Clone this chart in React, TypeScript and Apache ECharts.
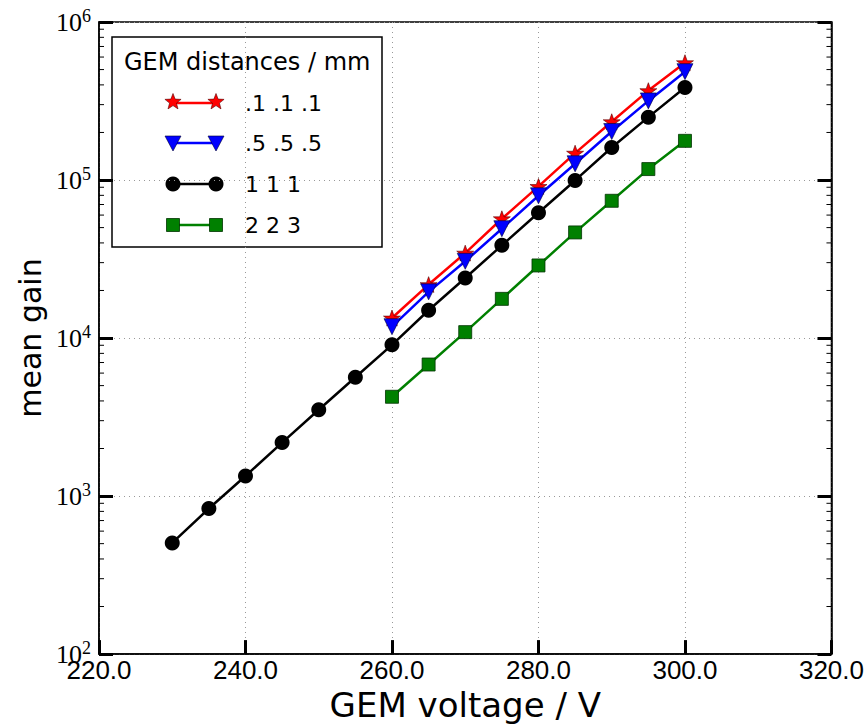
import React, { useEffect, useRef } from "react";
import * as echarts from "echarts";

// ---------- data ----------
const voltsBlack = [230, 235, 240, 245, 250, 255, 260, 265, 270, 275, 280, 285, 290, 295, 300];
const gain111 = [505, 834, 1340, 2180, 3520, 5650, 9060, 15000, 24000, 38600, 62100, 99400, 160600, 250000, 384500];
const volts = [260, 265, 270, 275, 280, 285, 290, 295, 300];
const gain01 = [13400, 21800, 34500, 56900, 91100, 148000, 234000, 368000, 553000];
const gain05 = [11800, 19600, 30600, 49200, 79500, 126700, 202700, 316700, 485000];
const gain223 = [4250, 6800, 10900, 17700, 28800, 46600, 73900, 117300, 177000];
const seriesNames = [".1 .1 .1", ".5 .5 .5", "1 1 1", "2 2 3"];
const legendTitle = "GEM distances / mm";
const xName = "GEM voltage / V";
const yName = "mean gain";
const xMin = 220, xMax = 320, xStep = 20;
const yMin = 100, yMax = 1000000;
const minorTickValues: number[] = [];
for (let d = 2; d <= 5; d++) for (let k = 2; k <= 9; k++) minorTickValues.push(k * Math.pow(10, d));

const STAR = "path://M12,0 L14.9,8.1 L23.4,8.1 L16.5,13.1 L19.1,21.2 L12,16.2 L4.9,21.2 L7.5,13.1 L0.6,8.1 L9.1,8.1 Z";

function starPoints(cx: number, cy: number, R: number, r: number) {
  const pts: number[][] = [];
  for (let i = 0; i < 10; i++) {
    const rad = i % 2 === 0 ? R : r;
    const a = -Math.PI / 2 + (i * Math.PI) / 5;
    pts.push([cx + rad * Math.cos(a), cy + rad * Math.sin(a)]);
  }
  return pts;
}

export default function App() {
  const ref = useRef<HTMLDivElement>(null);
  useEffect(() => {
    const chart = echarts.init(ref.current!, null, { renderer: "svg" });
    const sans = "DejaVu Sans";
    const lx1 = 173, lx2 = 216, lys = [103, 143, 184, 225], ltx = 245;
    const colors = ["#ff0000", "#0000ff", "#000000", "#008000"];
    const legendChildren: any[] = [
      { type: "rect", shape: { x: 112, y: 37, width: 270, height: 210 }, style: { fill: "#fff", stroke: "#000", lineWidth: 1.5 } },
      { type: "text", x: 124, y: 62, style: { text: legendTitle, font: `24px ${sans}`, fill: "#000", textVerticalAlign: "middle" } },
    ];
    lys.forEach((y, i) => {
      legendChildren.push({ type: "line", shape: { x1: lx1, y1: y, x2: lx2, y2: y }, style: { stroke: colors[i], lineWidth: 2.5 } });
      [lx1, lx2].forEach((cx) => {
        if (i === 0) legendChildren.push({ type: "polygon", shape: { points: starPoints(cx, y - 1, 8.5, 3.6) }, style: { fill: "#ff0000", stroke: "#550000", lineWidth: 0.6 } });
        if (i === 1) legendChildren.push({ type: "polygon", shape: { points: [[cx - 8, y - 7], [cx + 8, y - 7], [cx, y + 8]] }, style: { fill: "#0000ff", stroke: "#000033", lineWidth: 0.6 } });
        if (i === 2) legendChildren.push({ type: "circle", shape: { cx, cy: y, r: 7.5 }, style: { fill: "#000" } });
        if (i === 3) legendChildren.push({ type: "rect", shape: { x: cx - 6.5, y: y - 6.5, width: 13, height: 13 }, style: { fill: "#008000", stroke: "#003300", lineWidth: 0.8 } });
      });
      legendChildren.push({ type: "text", x: ltx, y, style: { text: seriesNames[i], font: `22px ${sans}`, fill: "#000", textVerticalAlign: "middle" } });
    });

    const split = { show: true, lineStyle: { color: "#999", width: 1, type: [1, 4] as any } };
    const yRich = {
      b: { fontFamily: "Liberation Serif", fontSize: 26, lineHeight: 30, color: "#000" },
      s: { fontFamily: "Liberation Serif", fontSize: 18, lineHeight: 18, verticalAlign: "top", color: "#000" },
    };
    const yFmt = (v: number) => `{b|10}{s|${Math.round(Math.log10(v))}}`;

    chart.setOption({
      animation: false,
      backgroundColor: "#fff",
      grid: { left: 99, top: 22, right: 35, bottom: 72, show: true, borderColor: "#000", borderWidth: 1.5, backgroundColor: "transparent" },
      xAxis: {
        type: "value", min: xMin, max: xMax, interval: xStep,
        name: xName, nameLocation: "middle", nameGap: 31,
        nameTextStyle: { fontFamily: sans, fontSize: 34, color: "#000" },
        axisLine: { show: true, lineStyle: { color: "#000", width: 1.5 } },
        axisTick: { show: true, inside: true, length: 14, lineStyle: { color: "#000", width: 3 } },
        axisLabel: { margin: 3, fontFamily: "Liberation Sans", fontSize: 26, color: "#000", formatter: (v: number) => v.toFixed(1) },
        splitLine: split,
      },
      yAxis: [
        {
          type: "log", logBase: 10, min: yMin, max: yMax,
          name: yName, nameLocation: "middle", nameGap: 52,
          nameTextStyle: { fontFamily: sans, fontSize: 30, color: "#000" },
          axisLine: { show: true, lineStyle: { color: "#000", width: 1.5 } },
          axisTick: { show: true, inside: true, length: 14, lineStyle: { color: "#000", width: 3 } },
          axisLabel: { margin: 8, formatter: yFmt, rich: yRich },
          splitLine: split,
        },
        {
          type: "log", logBase: 10, min: yMin, max: yMax, position: "right",
          axisLine: { show: true, lineStyle: { color: "#000", width: 1.5 } },
          axisTick: { show: true, inside: true, length: 14, lineStyle: { color: "#000", width: 3 } },
          axisLabel: { show: false },
          splitLine: { show: false },
        },
      ],
      graphic: { elements: [{ type: "group", z: 100, children: legendChildren }] },
      series: [
        {
          type: "custom", silent: true, z: 3, yAxisIndex: 0,
          data: minorTickValues.map((v) => [xMin, v]),
          renderItem: (params: any, api: any) => {
            const v = api.value(1);
            const l = api.coord([xMin, v]);
            const r = api.coord([xMax, v]);
            return {
              type: "group",
              children: [
                { type: "line", shape: { x1: l[0], y1: l[1], x2: l[0] + 5, y2: l[1] }, style: { stroke: "#000", lineWidth: 1 } },
                { type: "line", shape: { x1: r[0] - 5, y1: r[1], x2: r[0], y2: r[1] }, style: { stroke: "#000", lineWidth: 1 } },
              ],
            };
          },
        },
        {
          name: seriesNames[0], type: "line", data: volts.map((x, i) => [x, gain01[i]]),
          symbol: STAR, symbolSize: 17, symbolKeepAspect: true,
          lineStyle: { color: "#ff0000", width: 2.5 }, itemStyle: { color: "#ff0000", borderColor: "#550000", borderWidth: 0.6 }, z: 4,
        },
        {
          name: seriesNames[1], type: "line", data: volts.map((x, i) => [x, gain05[i]]),
          symbol: "triangle", symbolRotate: 180, symbolSize: 16,
          lineStyle: { color: "#0000ff", width: 2.5 }, itemStyle: { color: "#0000ff", borderColor: "#000033", borderWidth: 0.6 }, z: 5,
        },
        {
          name: seriesNames[2], type: "line", data: voltsBlack.map((x, i) => [x, gain111[i]]),
          symbol: "circle", symbolSize: 15,
          lineStyle: { color: "#000", width: 2.5 }, itemStyle: { color: "#000" }, z: 6,
        },
        {
          name: seriesNames[3], type: "line", data: volts.map((x, i) => [x, gain223[i]]),
          symbol: "rect", symbolSize: 13,
          lineStyle: { color: "#008000", width: 2.5 }, itemStyle: { color: "#008000", borderColor: "#003300", borderWidth: 0.8 }, z: 7,
        },
      ],
    });
    return () => chart.dispose();
  }, []);
  return <div ref={ref} style={{ position: "absolute", left: 0, top: 0, width: 867, height: 727 }} />;
}
